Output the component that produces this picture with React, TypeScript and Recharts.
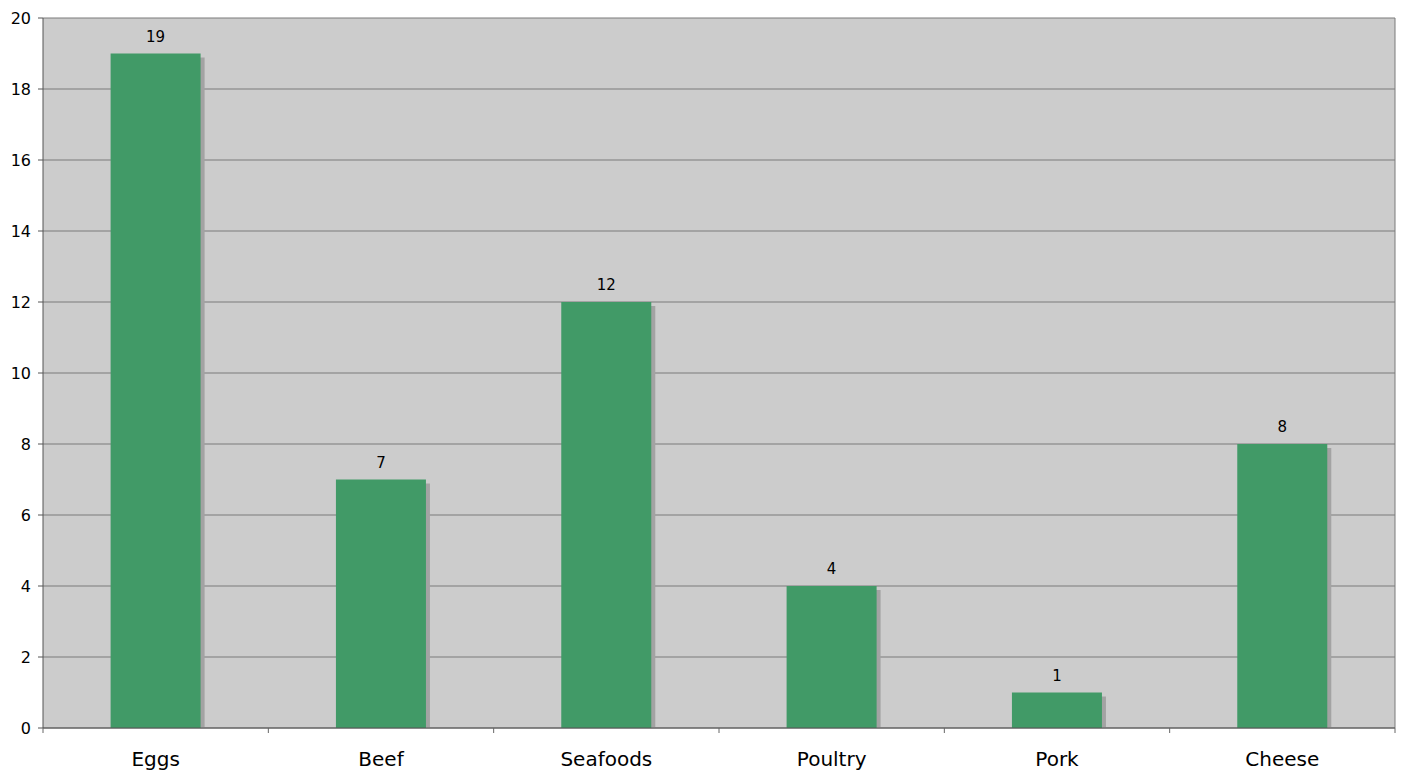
import { BarChart, Bar, XAxis, YAxis, CartesianGrid, LabelList } from 'recharts';

const categories = ['Eggs', 'Beef', 'Seafoods', 'Poultry', 'Pork', 'Cheese'];
const counts = [19, 7, 12, 4, 1, 8];
const yTicks = [0, 2, 4, 6, 8, 10, 12, 14, 16, 18, 20];

const data = categories.map((name, i) => ({ name, value: counts[i] }));

const W = 1403;
const H = 775;
const LEFT = 43;
const RIGHT_EDGE = 1395;
const halfBand = (RIGHT_EDGE - LEFT) / categories.length / 2;

// bar with gray drop shadow to the lower right
const ShadowBar = (props: any) => {
    const { x, y, width, height } = props;
    if (!height || height <= 0) return null;
    return (
        <g>
            <rect x={x + 4} y={y + 4} width={width} height={Math.max(height - 4, 0)} fill="#a3a3a3" />
            <rect x={x} y={y} width={width} height={height} fill="#419a67" />
        </g>
    );
};

// category labels centred, tick marks on the category boundaries
const XTick = (props: any) => {
    const { x, y, payload, index } = props;
    const base = 728;
    return (
        <g>
            <line x1={x - halfBand} x2={x - halfBand} y1={base} y2={base + 5} stroke="#666" />
            {index === categories.length - 1 && (
                <line x1={x + halfBand} x2={x + halfBand} y1={base} y2={base + 5} stroke="#666" />
            )}
            <text x={x} y={y + 30} textAnchor="middle" fontSize={20} fill="#000">
                {payload.value}
            </text>
        </g>
    );
};

export default function App() {
    return (
        <div style={{ position: 'absolute', left: 0, top: 0, background: '#fff', fontFamily: '"DejaVu Sans", Verdana, sans-serif' }}>
            <BarChart
                width={W}
                height={H}
                data={data}
                margin={{ top: 18, right: W - RIGHT_EDGE, bottom: 7, left: 0 }}
                barCategoryGap="30%"
            >
                <CartesianGrid
                    fill="#cccccc"
                    stroke="#7a7a7a"
                    vertical={true}
                    verticalCoordinatesGenerator={() => [RIGHT_EDGE]}
                />
                <XAxis
                    dataKey="name"
                    height={40}
                    axisLine={{ stroke: '#555' }}
                    tickLine={false}
                    tick={<XTick />}
                    interval={0}
                />
                <YAxis
                    width={LEFT}
                    domain={[0, 20]}
                    ticks={yTicks}
                    interval={0}
                    axisLine={{ stroke: '#555' }}
                    tickLine={{ stroke: '#555' }}
                    tickSize={5}
                    tickMargin={7}
                    tick={{ fill: '#000', fontSize: 16 }}
                />
                <Bar dataKey="value" shape={<ShadowBar />} isAnimationActive={false}>
                    <LabelList dataKey="value" position="top" offset={12} fill="#000" fontSize={15} />
                </Bar>
            </BarChart>
        </div>
    );
}
